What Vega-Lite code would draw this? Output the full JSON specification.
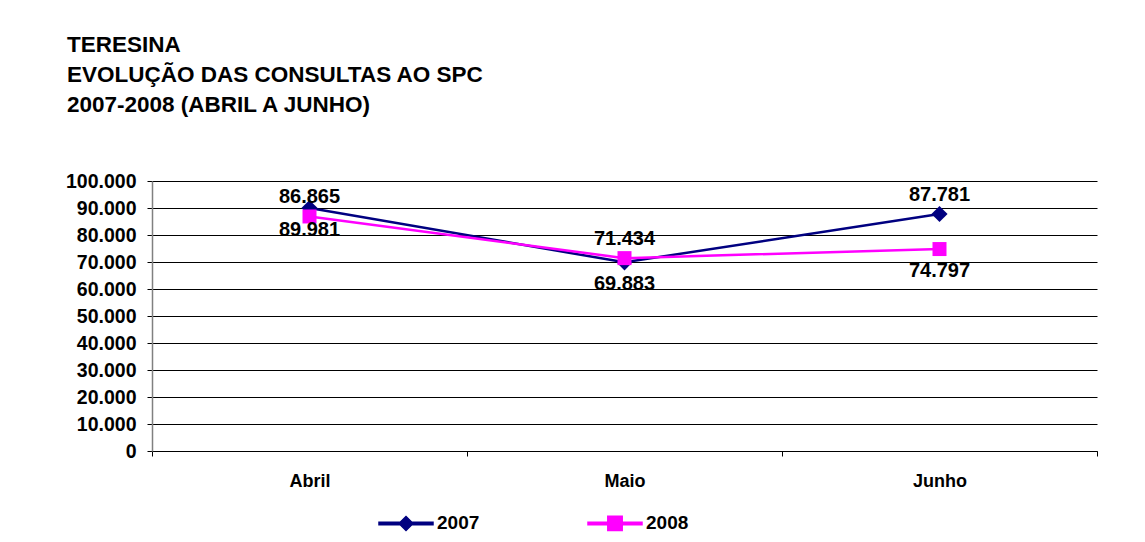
{
  "$schema": "https://vega.github.io/schema/vega-lite/v6.json",
  "autosize": "none",
  "width": 945,
  "height": 270,
  "padding": {"left": 152, "top": 181, "right": 48, "bottom": 91},
  "background": "white",
  "config": {
    "locale": {"number": {"decimal": ",", "thousands": ".", "grouping": [3], "currency": ["R$", ""]}},
    "font": "Liberation Sans",
    "view": {"stroke": null}
  },
  "title": {
    "text": ["TERESINA", "EVOLUÇÃO DAS CONSULTAS AO SPC", "2007-2008 (ABRIL A JUNHO)"],
    "anchor": "start",
    "frame": "group",
    "dx": -85,
    "offset": 55,
    "font": "Liberation Sans",
    "fontSize": 22.5,
    "fontWeight": "bold",
    "lineHeight": 30,
    "color": "#000000"
  },
  "data": {
    "values": [
      {"mes": "Abril", "serie": "2007", "valor": 89981},
      {"mes": "Maio", "serie": "2007", "valor": 69883},
      {"mes": "Junho", "serie": "2007", "valor": 87781},
      {"mes": "Abril", "serie": "2008", "valor": 86865},
      {"mes": "Maio", "serie": "2008", "valor": 71434},
      {"mes": "Junho", "serie": "2008", "valor": 74797}
    ]
  },
  "encoding": {
    "x": {
      "field": "mes", "type": "nominal", "sort": ["Abril", "Maio", "Junho"],
      "scale": {"type": "band", "paddingInner": 0, "paddingOuter": 0},
      "axis": {
        "title": null, "labelAngle": 0, "tickBand": "extent", "grid": false,
        "domainColor": "#000000", "tickColor": "#000000", "tickSize": 5,
        "labelFont": "Liberation Sans", "labelFontSize": 18, "labelFontWeight": "bold",
        "labelColor": "#000000", "labelPadding": 16
      }
    },
    "y": {
      "field": "valor", "type": "quantitative",
      "scale": {"domain": [0, 100000], "nice": false},
      "axis": {
        "title": null, "values": [0, 10000, 20000, 30000, 40000, 50000, 60000, 70000, 80000, 90000, 100000],
        "format": ",d", "grid": true, "gridColor": "#000000", "gridWidth": 1, "gridOpacity": 1,
        "domainColor": "#808080", "domainWidth": 1.5, "tickColor": "#000000", "tickSize": 5,
        "labelFont": "Liberation Sans", "labelFontSize": 19.5, "labelFontWeight": "bold",
        "labelColor": "#000000", "labelPadding": 11
      }
    },
    "color": {
      "field": "serie", "type": "nominal",
      "scale": {"domain": ["2007", "2008"], "range": ["#000080", "#FF00FF"]},
      "legend": {
        "orient": "none", "legendX": 244, "legendY": 332, "direction": "horizontal",
        "title": null, "padding": 0, "symbolSize": 324,
        "symbolOpacity": 1,
        "labelFont": "Liberation Sans", "labelFontSize": 19, "labelFontWeight": "bold",
        "labelColor": "#000000", "labelOffset": 21, "columnPadding": 105,
        "encode": {
          "symbols": {
            "update": {
              "shape": {"signal": "datum.value == '2007' ? 'M-3,-0.14L3,-0.14L3,0.14L-3,0.14ZM0,-0.78L0.78,0L0,0.78L-0.78,0Z' : 'M-3,-0.14L3,-0.14L3,0.14L-3,0.14ZM-0.8,-0.8L0.8,-0.8L0.8,0.8L-0.8,0.8Z'"},
              "fill": {"signal": "datum.value == '2007' ? '#000080' : '#FF00FF'"},
              "stroke": {"value": "transparent"},
              "opacity": {"value": 1},
              "fillOpacity": {"value": 1}
            }
          }
        }
      }
    }
  },
  "layer": [
    {"mark": {"type": "line", "strokeWidth": 2.5}},
    {
      "transform": [{"filter": "datum.serie == '2007'"}],
      "mark": {"type": "point", "filled": true, "opacity": 1, "shape": "diamond", "size": 260}
    },
    {
      "transform": [{"filter": "datum.serie == '2008'"}],
      "mark": {"type": "point", "filled": true, "opacity": 1, "shape": "square", "size": 196}
    },
    {
      "transform": [{"filter": "(datum.serie == '2008' && datum.mes != 'Junho') || (datum.serie == '2007' && datum.mes == 'Junho')"}],
      "mark": {"type": "text", "dy": -19, "baseline": "middle", "font": "Liberation Sans", "fontSize": 20, "fontWeight": "bold", "color": "#000000"},
      "encoding": {"text": {"field": "valor", "type": "quantitative", "format": ",d"}, "color": {"value": "#000000"}}
    },
    {
      "transform": [{"filter": "!((datum.serie == '2008' && datum.mes != 'Junho') || (datum.serie == '2007' && datum.mes == 'Junho'))"}],
      "mark": {"type": "text", "dy": 22, "baseline": "middle", "font": "Liberation Sans", "fontSize": 20, "fontWeight": "bold", "color": "#000000"},
      "encoding": {"text": {"field": "valor", "type": "quantitative", "format": ",d"}, "color": {"value": "#000000"}}
    }
  ]
}
